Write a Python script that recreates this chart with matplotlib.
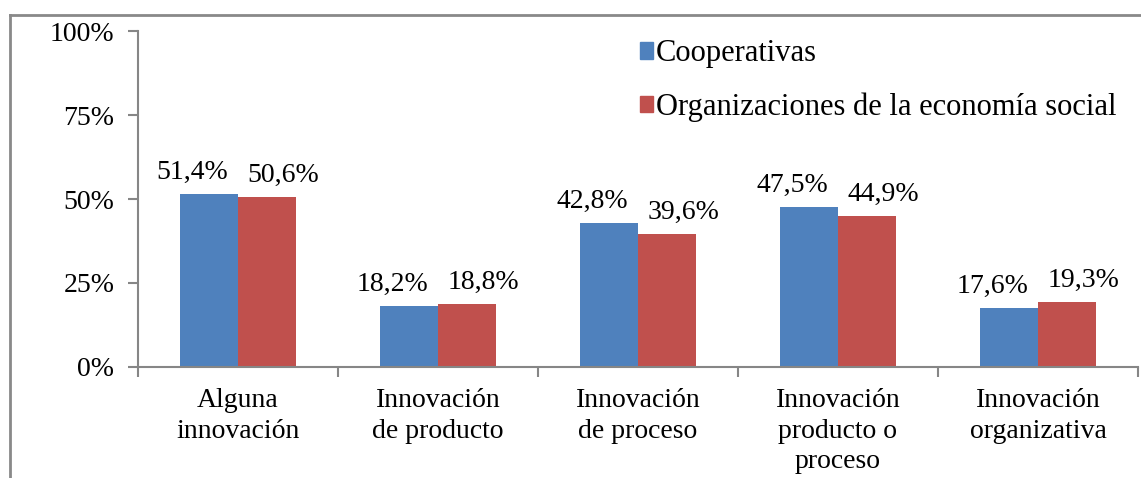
import matplotlib
matplotlib.use("Agg")
import matplotlib.pyplot as plt
from matplotlib.lines import Line2D
from matplotlib.patches import Patch
import numpy as np

categories = ["Alguna\ninnovación", "Innovación\nde producto", "Innovación\nde proceso",
              "Innovación\nproducto o\nproceso", "Innovación\norganizativa"]
series_names = ["Cooperativas", "Organizaciones de la economía social"]
coop = [51.4, 18.2, 42.8, 47.5, 17.6]
oes = [50.6, 18.8, 39.6, 44.9, 19.3]
yticks = [0, 25, 50, 75, 100]
ytick_labels = ["0%", "25%", "50%", "75%", "100%"]

plt.rcParams['font.family'] = ['Liberation Serif', 'DejaVu Serif']
FS = 20
LEG_FS = 22
AX = "#868686"
BLUE = "#4F81BD"
RED = "#C0504D"

fig = plt.figure(figsize=(11.41, 4.78), dpi=100)
ax = fig.add_axes([138/1141, 1 - 367/478, 1000/1141, 336/478])

x = np.arange(len(categories))
w = 0.29
b1 = ax.bar(x - w/2, coop, w, color=BLUE, label=series_names[0])
b2 = ax.bar(x + w/2, oes, w, color=RED, label=series_names[1])

def fmt(v):
    return f"{v:.1f}".replace(".", ",") + "%"

for rect, v in zip(b1, coop):
    ax.annotate(fmt(v), (rect.get_x() + rect.get_width(), v), xytext=(-7, 11),
                textcoords="offset points", ha="right", va="baseline", fontsize=FS)
for rect, v in zip(b2, oes):
    ax.annotate(fmt(v), (rect.get_x(), v), xytext=(7, 11),
                textcoords="offset points", ha="left", va="baseline", fontsize=FS)

ax.set_xlim(-0.5, len(categories) - 0.5)
ax.set_ylim(0, 100)
ax.set_yticks(yticks)
ax.set_yticklabels(ytick_labels, fontsize=FS)
ax.set_xticks(x)
ax.set_xticklabels(categories, fontsize=FS, linespacing=1.3)
ax.set_xticks(np.arange(len(categories) + 1) - 0.5, minor=True)
ax.tick_params(axis="x", which="major", length=0, pad=15)
ax.tick_params(axis="x", which="minor", length=7, color=AX, width=1.5, direction="out")
ax.tick_params(axis="y", length=7, color=AX, width=1.5, direction="out", pad=10)

for s in ["top", "right"]:
    ax.spines[s].set_visible(False)
for s in ["left", "bottom"]:
    ax.spines[s].set_color(AX)
    ax.spines[s].set_linewidth(1.5)

handles = [Patch(color=BLUE), Patch(color=RED)]
leg = ax.legend(handles, series_names, loc="upper left", bbox_to_anchor=(0.502, 0.975),
                frameon=False, fontsize=LEG_FS, handlelength=0.43, handleheight=0.43,
                handletextpad=0.1, labelspacing=0.8, borderaxespad=0, borderpad=0)

# outer chart frame (left and top edges visible)
fig.add_artist(Line2D([10/1141, 10/1141], [0, 1 - 15/478], transform=fig.transFigure,
                      color="#898989", lw=2))
fig.add_artist(Line2D([10/1141, 1], [1 - 15/478, 1 - 15/478], transform=fig.transFigure,
                      color="#898989", lw=2))

fig.savefig("out.png", dpi=100)
